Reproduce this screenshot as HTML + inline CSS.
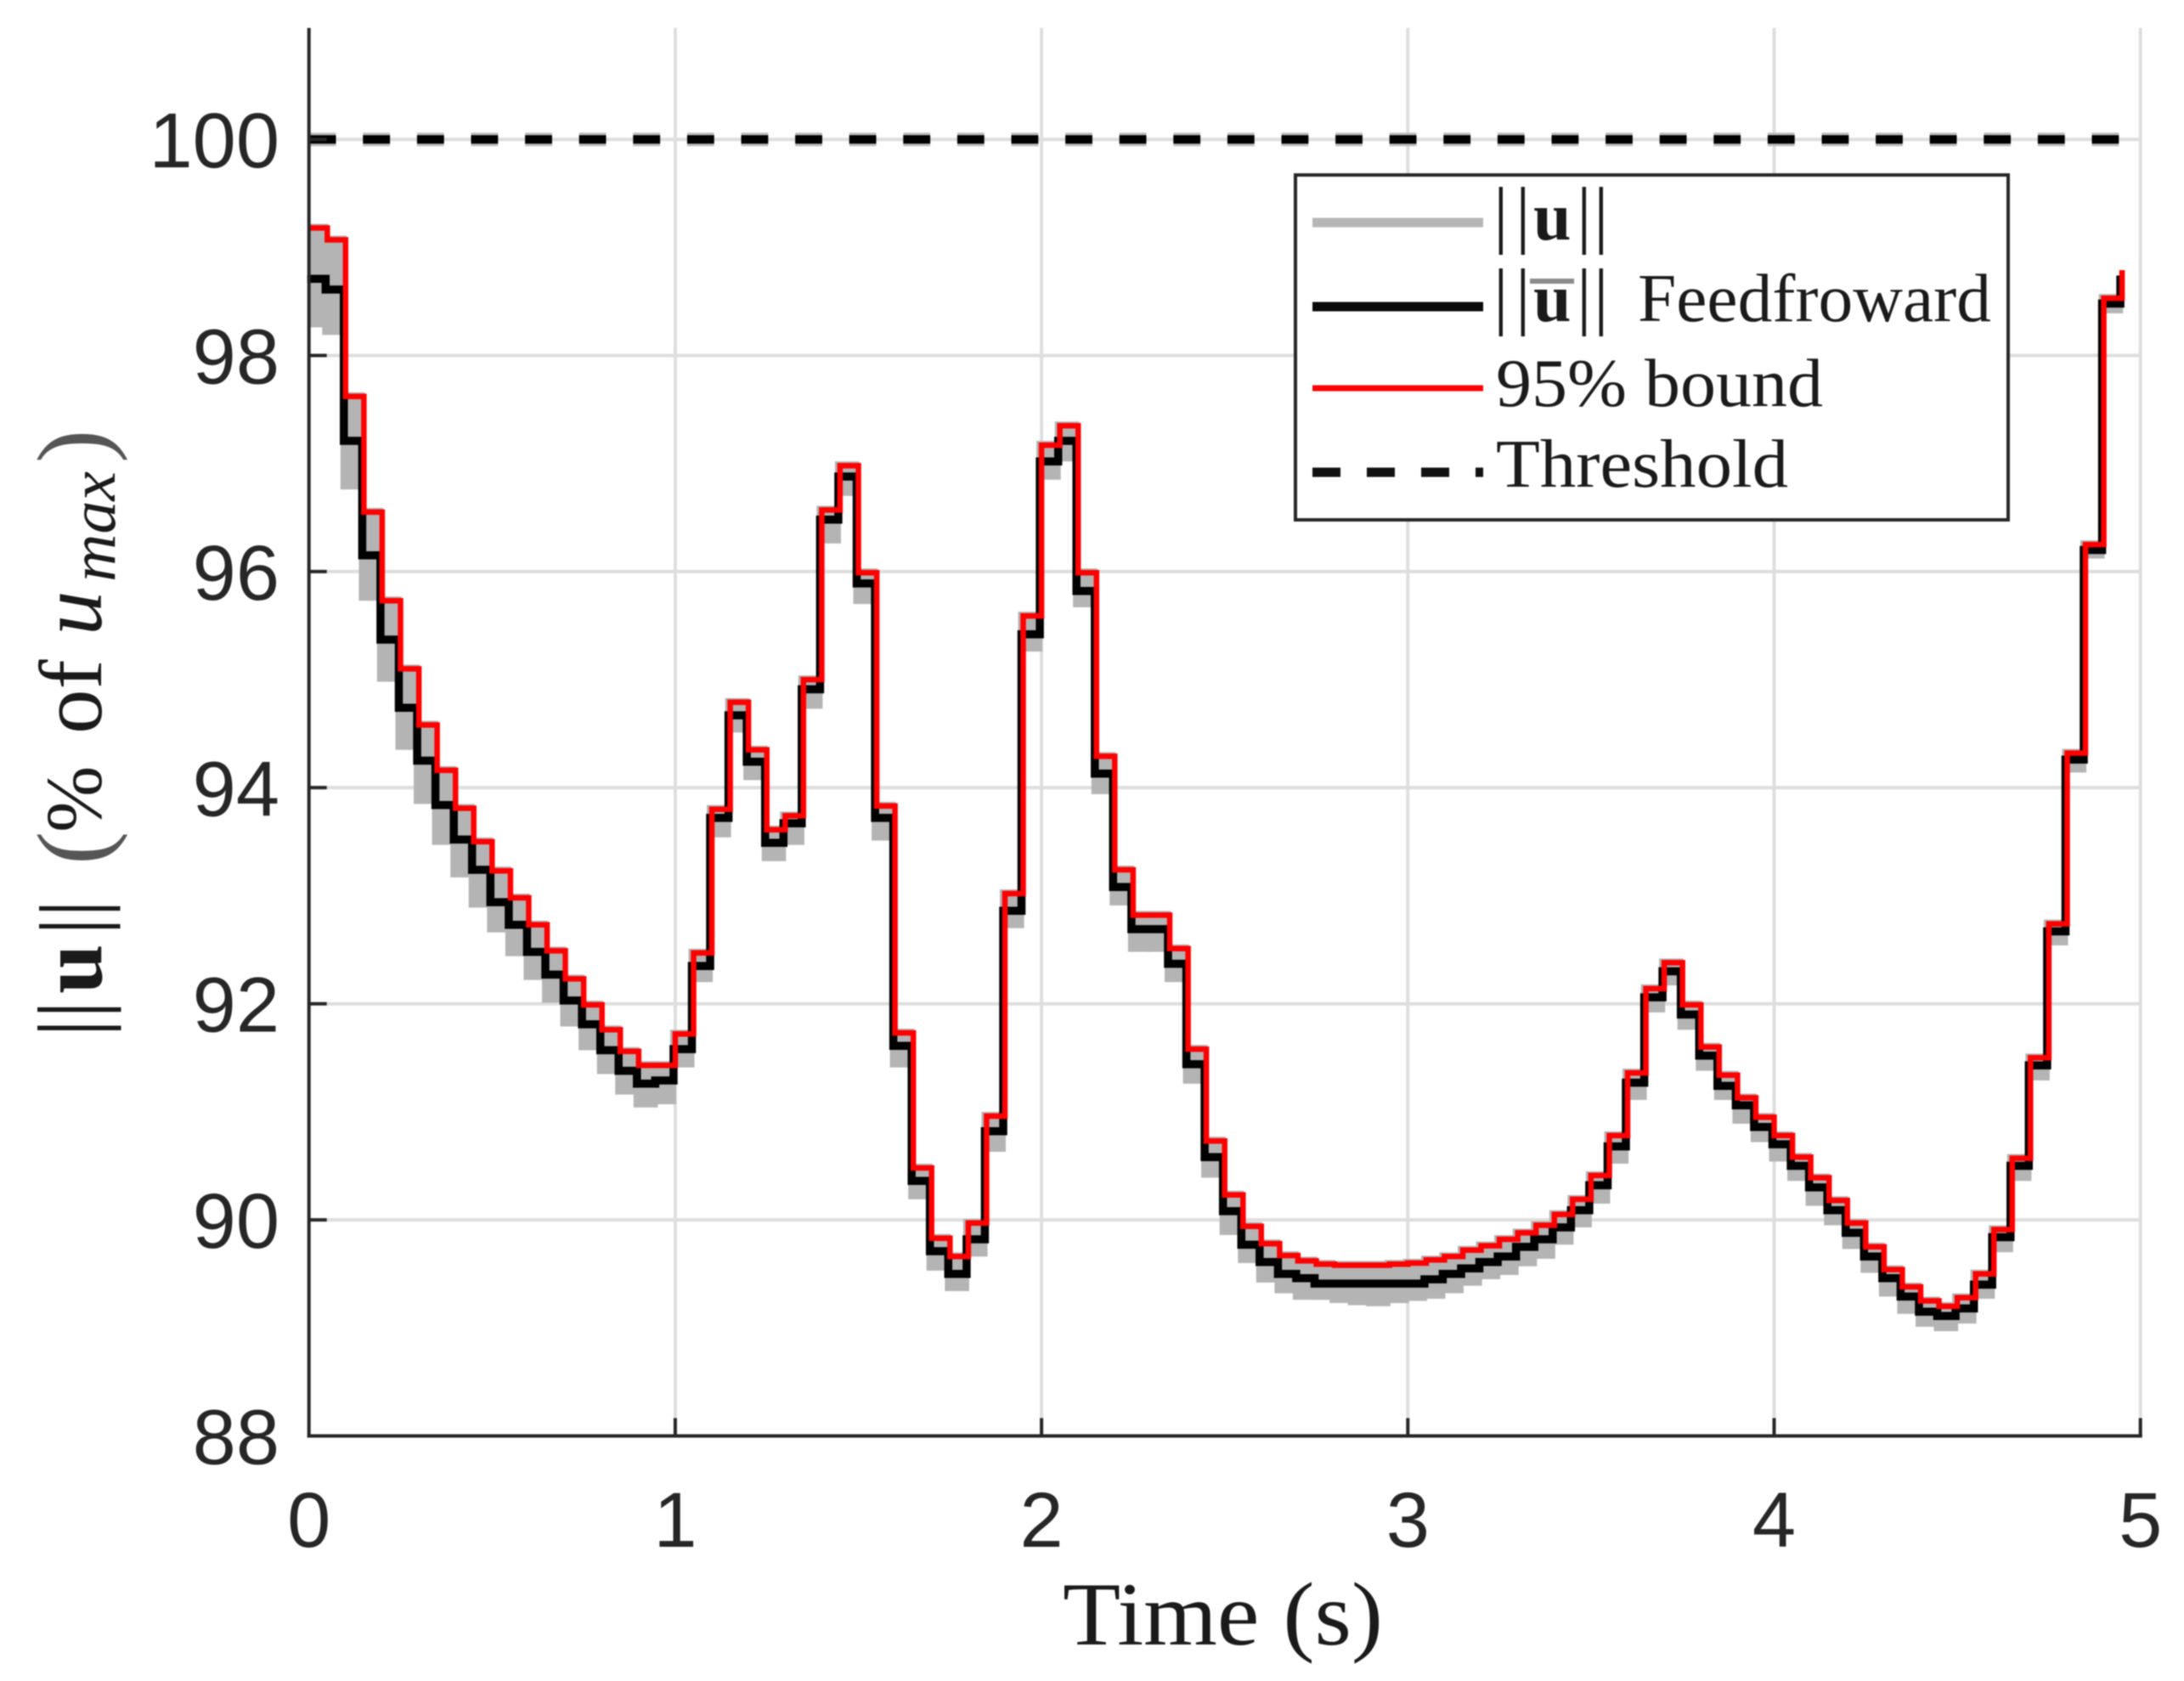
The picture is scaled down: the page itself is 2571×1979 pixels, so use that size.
<!DOCTYPE html>
<html lang="en">
<head>
<meta charset="utf-8">
<title>Control norm versus time</title>
<style>
  html, body { margin: 0; padding: 0; background: #fff; }
  svg { display: block; filter: blur(0.7px); }
  .serif { font-family: "Liberation Serif", serif; fill: #1a1a1a; }
  .sans { font-family: "Liberation Sans", sans-serif; fill: #262626; }
</style>
</head>
<body>
<svg id="chart" xmlns="http://www.w3.org/2000/svg" width="2571" height="1979" viewBox="0 0 2571 1979">
  <rect x="0" y="0" width="2571" height="1979" fill="#ffffff"/>
  <g id="grid"></g>
  <g id="marks"></g>
  <g id="axes"></g>

  <text class="serif" x="1251" y="1936" font-size="106" textLength="377" lengthAdjust="spacingAndGlyphs">Time (s)</text>

  <g transform="rotate(-90)">
    <text class="serif" x="-1221" y="119" font-size="108">||</text>
    <text class="serif" x="-1170" y="119" font-size="105" font-weight="bold">u</text>
    <text class="serif" x="-1101" y="119" font-size="105">||</text>
    <text class="serif" x="-1018" y="125" font-size="118" style="fill:#555555">(</text>
    <text class="serif" x="-980" y="119" font-size="94">%</text>
    <text class="serif" x="-864" y="119" font-size="105">of</text>
    <text class="serif" x="-748" y="119" font-size="105" font-style="italic">u</text>
    <text class="serif" x="-685" y="135" font-size="76" font-style="italic" textLength="130" lengthAdjust="spacingAndGlyphs">max</text>
    <text class="serif" x="-545" y="125" font-size="118" style="fill:#555555">)</text>
  </g>

  <g>
    <rect x="1525" y="206" width="839" height="406" fill="#ffffff" stroke="#262626" stroke-width="4"/>

    <line x1="1545" y1="262" x2="1746" y2="262" stroke="#b6b6b6" stroke-width="11"/>
    <text class="serif" font-size="88" x="1758 1784 1856 1876" y="281">||||</text>
    <text class="serif" font-size="80" font-weight="bold" x="1805" y="282">u</text>

    <line x1="1545" y1="361" x2="1746" y2="361" stroke="#0a0a0a" stroke-width="11"/>
    <text class="serif" font-size="88" x="1758 1784 1856 1876" y="377">||||</text>
    <text class="serif" font-size="80" font-weight="bold" x="1805" y="378">u</text>
    <rect x="1801" y="328" width="52" height="6" fill="#8a8a8a"/>
    <text class="serif" font-size="80" x="1928" y="378" textLength="416" lengthAdjust="spacingAndGlyphs">Feedfroward</text>

    <line x1="1545" y1="457" x2="1746" y2="457" stroke="#ff0000" stroke-width="7"/>
    <text class="serif" font-size="80" x="1761" y="478" textLength="385" lengthAdjust="spacingAndGlyphs">95% bound</text>

    <line x1="1545" y1="556" x2="1746" y2="556" stroke="#111111" stroke-width="11" stroke-dasharray="33 31"/>
    <text class="serif" font-size="80" x="1761" y="573" textLength="344" lengthAdjust="spacingAndGlyphs">Threshold</text>
  </g>
</svg>

<script>
const sampleInterval = 0.05;
const thresholdLevel = 100;
const xTickValues = [0, 1, 2, 3, 4, 5];
const yTickValues = [88, 90, 92, 94, 96, 98, 100];
const xTickLabels = ["0", "1", "2", "3", "4", "5"];
const yTickLabels = ["88", "90", "92", "94", "96", "98", "100"];
const xDomain = [0, 5];
const yDomain = [88, 101];

const boundSeries = [
  99.18,99.07,97.62,96.55,95.73,95.10,94.58,94.16,93.81,93.50,
  93.23,92.98,92.73,92.49,92.23,91.99,91.76,91.56,91.43,91.43,
  91.72,92.47,93.80,94.79,94.35,93.61,93.74,95.00,96.57,96.98,
  95.99,93.83,91.73,90.48,89.83,89.66,89.97,90.96,93.02,95.59,
  97.17,97.35,95.99,94.29,93.24,92.82,92.82,92.51,91.58,90.73,
  90.23,89.94,89.78,89.67,89.62,89.59,89.58,89.58,89.58,89.59,
  89.60,89.63,89.66,89.72,89.76,89.82,89.88,89.95,90.05,90.19,
  90.41,90.78,91.36,92.14,92.38,91.99,91.60,91.34,91.13,90.95,
  90.78,90.58,90.39,90.18,89.97,89.75,89.54,89.38,89.25,89.20,
  89.28,89.50,89.91,90.57,91.50,92.74,94.32,96.25,98.53,98.79
];

const feedforwardSeries = [
  98.71,98.61,97.21,96.15,95.37,94.74,94.25,93.84,93.52,93.24,
  92.94,92.73,92.48,92.27,92.03,91.81,91.57,91.38,91.26,91.29,
  91.58,92.35,93.72,94.67,94.24,93.49,93.67,94.91,96.48,96.88,
  95.89,93.72,91.61,90.36,89.71,89.50,89.82,90.82,92.86,95.42,
  97.02,97.21,95.82,94.13,93.08,92.69,92.69,92.37,91.44,90.58,
  90.08,89.77,89.61,89.50,89.46,89.41,89.41,89.41,89.41,89.41,
  89.41,89.45,89.50,89.55,89.61,89.66,89.75,89.82,89.93,90.09,
  90.32,90.68,91.27,92.06,92.30,91.90,91.52,91.24,91.06,90.86,
  90.70,90.50,90.30,90.09,89.88,89.66,89.46,89.29,89.15,89.11,
  89.18,89.40,89.84,90.50,91.43,92.67,94.26,96.20,98.48,98.74
];

const normLowerSeries = [
  98.26,98.19,96.76,95.73,94.98,94.35,93.85,93.47,93.17,92.89,
  92.66,92.44,92.22,92.01,91.79,91.57,91.35,91.16,91.04,91.07,
  91.41,92.20,93.54,94.51,94.07,93.32,93.47,94.73,96.26,96.70,
  95.70,93.51,91.41,90.19,89.53,89.34,89.66,90.63,92.70,95.26,
  96.85,97.02,95.67,93.94,92.91,92.48,92.48,92.20,91.26,90.39,
  89.86,89.60,89.42,89.32,89.26,89.26,89.23,89.21,89.20,89.23,
  89.25,89.27,89.32,89.39,89.45,89.49,89.57,89.64,89.77,89.93,
  90.15,90.52,91.11,91.92,92.17,91.76,91.38,91.11,90.89,90.72,
  90.54,90.36,90.13,89.95,89.73,89.51,89.29,89.13,89.01,88.97,
  89.04,89.27,89.70,90.36,91.29,92.54,94.14,96.12,98.39,98.62
];

const SVG_NS = "http://www.w3.org/2000/svg";
const plotLeft = 363.7;
const pixelsPerSecond = 431.2;
const plotBase = 1690.5;
const pixelsPerUnit = 127.2;

function xScale(t) { return plotLeft + (t - xDomain[0]) * pixelsPerSecond; }
function yScale(v) { return plotBase - (v - yDomain[0]) * pixelsPerUnit; }

function svgEl(tag, parent, attrs) {
  const el = document.createElementNS(SVG_NS, tag);
  for (const key in attrs) { el.setAttribute(key, attrs[key]); }
  parent.appendChild(el);
  return el;
}

function stairPath(values, dx) {
  let d = "M" + (xScale(0) + dx).toFixed(1) + " " + yScale(values[0]).toFixed(1);
  for (let k = 1; k < values.length; k++) {
    d += " H" + (xScale(k * sampleInterval) + dx).toFixed(1);
    d += " V" + yScale(values[k]).toFixed(1);
  }
  return d;
}

const gridGroup = document.getElementById("grid");
const marksGroup = document.getElementById("marks");
const axesGroup = document.getElementById("axes");

xTickValues.forEach(function (t, i) {
  if (t === xDomain[0]) return;
  const line = svgEl("line", gridGroup, { x1: xScale(t), x2: xScale(t), y1: yScale(yDomain[1]) - 4, y2: yScale(yDomain[0]), stroke: "#dedede", "stroke-width": 4 });
  
  
});
yTickValues.forEach(function (v, i) {
  if (v === yDomain[0]) return;
  const line = svgEl("line", gridGroup, { x1: xScale(xDomain[0]), x2: xScale(xDomain[1]), y1: yScale(v), y2: yScale(v), stroke: "#dedede", "stroke-width": 4 });
  
  
});

const thresholdHalo = svgEl("line", marksGroup, { x1: xScale(xDomain[0]), x2: xScale(xDomain[1]), y1: yScale(thresholdLevel), y2: yScale(thresholdLevel), stroke: "#bdbdbd", "stroke-width": 16, "stroke-dasharray": "31.8 31.8" });


const thresholdLine = svgEl("line", marksGroup, { x1: xScale(xDomain[0]), x2: xScale(xDomain[1]), y1: yScale(thresholdLevel), y2: yScale(thresholdLevel), stroke: "#000000", "stroke-width": 10, "stroke-dasharray": "31.8 31.8" });



for (let k = 0; k < normLowerSeries.length - 1; k++) {
  const left = Math.max(xScale(k * sampleInterval) - 6, plotLeft);
  const right = xScale((k + 1) * sampleInterval) + 1;
  const top = yScale(boundSeries[k]) - 5;
  const bottom = yScale(normLowerSeries[k]);
  const band = svgEl("rect", marksGroup, { x: left.toFixed(1), y: top.toFixed(1), width: (right - left).toFixed(1), height: (bottom - top).toFixed(1), fill: "#b4b4b4" });
  
  
}

const feedforwardLine = svgEl("path", marksGroup, { d: stairPath(feedforwardSeries, -2), fill: "none", stroke: "#000000", "stroke-width": 9.5, "stroke-linejoin": "miter" });



const boundLine = svgEl("path", marksGroup, { d: stairPath(boundSeries, 0), fill: "none", stroke: "#ff0000", "stroke-width": 6.5, "stroke-linejoin": "miter" });



const yAxisLine = svgEl("line", axesGroup, { x1: xScale(xDomain[0]), x2: xScale(xDomain[0]), y1: yScale(yDomain[1]) - 4, y2: yScale(yDomain[0]) + 2, stroke: "#262626", "stroke-width": 4 });


const xAxisLine = svgEl("line", axesGroup, { x1: xScale(xDomain[0]) - 2, x2: xScale(xDomain[1]) + 2, y1: yScale(yDomain[0]), y2: yScale(yDomain[0]), stroke: "#262626", "stroke-width": 4 });



xTickValues.forEach(function (t, i) {
  if (t !== xDomain[0]) {
    const tick = svgEl("line", axesGroup, { x1: xScale(t), x2: xScale(t), y1: yScale(yDomain[0]), y2: yScale(yDomain[0]) - 21, stroke: "#262626", "stroke-width": 4 });
    
    
  }
  const label = svgEl("text", axesGroup, { x: xScale(t), y: 1821, "text-anchor": "middle", "font-size": 92, class: "sans" });
  
  
  label.textContent = xTickLabels[i];
});

yTickValues.forEach(function (v, i) {
  if (v !== yDomain[0]) {
    const tick = svgEl("line", axesGroup, { x1: xScale(xDomain[0]), x2: xScale(xDomain[0]) + 21, y1: yScale(v), y2: yScale(v), stroke: "#262626", "stroke-width": 4 });
    
    
  }
  const label = svgEl("text", axesGroup, { x: 329, y: yScale(v) + 33, "text-anchor": "end", "font-size": 92, class: "sans" });
  
  
  label.textContent = yTickLabels[i];
});
</script>
</body>
</html>
